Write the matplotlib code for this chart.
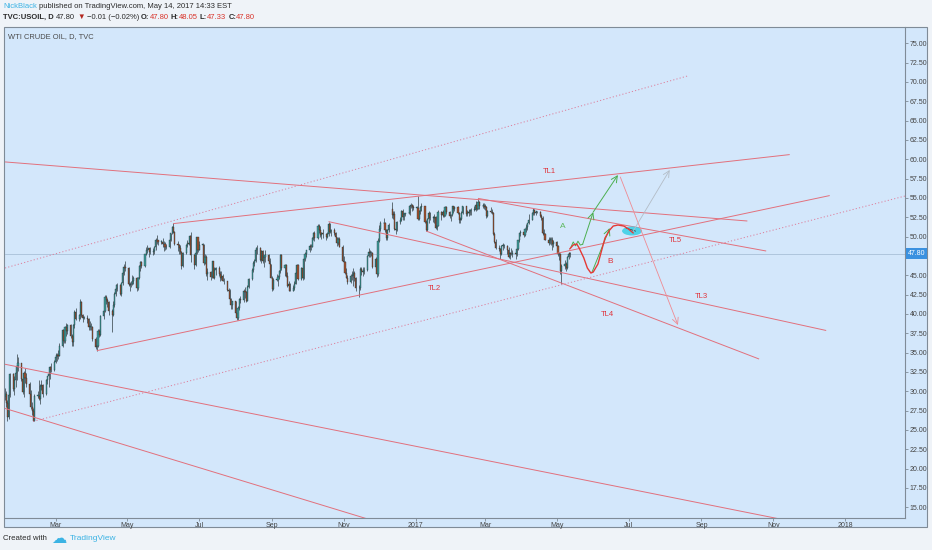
import matplotlib
matplotlib.use("Agg")
import matplotlib.pyplot as plt
import matplotlib.dates as mdates
import matplotlib.transforms as mtransforms
from matplotlib.patches import Rectangle, Ellipse
import pandas as pd
import numpy as np

FONT = ['Liberation Sans', 'DejaVu Sans']
plt.rcParams['font.family'] = FONT

# ---------------- data ----------------
last_date = '2017-05-12'
closes = [
    29.6, 28.5, 26.6, 29.5, 32.2, 30.3, 31.4, 32.3, 33.2, 33.6,
    31.6, 29.9, 32.3, 31.7, 30.9, 29.7, 27.9, 27.5, 26.2, 29.4, 29.4, 29.0, 30.7, 30.8, 29.6, 31.5, 31.9, 32.2, 33.1, 32.8, 33.8,
    34.4, 34.7, 34.6, 35.9, 37.9, 36.5, 38.3, 37.8, 38.5, 37.2, 36.3, 38.5, 40.2, 39.4, 39.9, 41.5, 39.8, 39.5, 39.5, 39.4, 38.3, 38.3, 38.3,
    36.8, 35.7, 35.9, 37.8, 37.3, 39.7, 40.4, 42.2, 41.8, 41.5, 40.4, 39.8, 41.1, 42.6, 43.2, 43.7, 42.6, 44.0, 45.3, 46.0, 45.9,
    43.8, 43.7, 43.8, 44.3, 44.7, 43.4, 44.7, 46.2, 46.7, 46.2, 47.7, 48.3, 48.2, 48.5, 48.0, 48.1, 48.6, 49.6, 49.5, 49.3, 49.3, 49.1,
    49.0, 48.6, 48.6, 49.6, 50.4, 51.2, 50.6, 49.1, 48.9, 48.5, 48.0, 46.2, 47.9, 48.9, 49.2, 49.1, 50.1, 47.6, 46.3, 47.9, 49.9, 48.3,
    48.9, 48.9, 46.6, 47.4, 45.1, 45.4, 44.8, 46.8, 44.7, 45.7, 45.9, 45.2, 44.6, 44.9, 44.3, 44.2, 43.1, 42.9, 41.9, 41.1, 41.6,
    40.1, 39.5, 40.8, 41.9, 41.8, 43.0, 42.8, 41.7, 43.5, 44.5, 45.7, 46.6, 46.8, 48.2, 48.5, 47.0, 48.1, 46.8, 47.3, 47.6, 46.9, 46.4, 44.7,
    43.2, 44.4, 44.4, 44.8, 45.5, 47.6, 45.9, 46.3, 44.9, 43.6, 43.9, 43.0, 43.3, 43.9, 45.3, 46.3, 44.5, 45.9, 44.7, 47.1, 47.8, 48.2,
    48.8, 48.7, 49.8, 50.4, 49.8, 51.4, 50.8, 50.2, 50.4, 50.3, 49.9, 50.3, 51.6, 50.6, 50.8, 50.5, 49.9, 49.2, 49.7, 48.7, 46.9,
    46.7, 45.3, 44.7, 44.1, 44.9, 45.0, 45.3, 44.7, 43.4, 43.3, 45.8, 45.6, 45.4, 45.7, 47.5, 48.0, 47.9, 47.9, 46.1, 47.1, 45.2, 49.4,
    51.0, 51.7, 51.8, 50.9, 49.8, 50.8, 51.5, 52.8, 52.9, 51.0, 50.9, 51.9, 52.1, 53.3, 52.5, 52.9, 53.0, 53.0, 53.9, 54.1, 53.8, 53.7,
    53.7, 52.3, 53.3, 53.8, 54.0, 51.9, 50.8, 52.3, 53.0, 52.4, 52.4, 52.5, 51.1, 51.4, 53.2, 52.8, 53.2, 52.7, 53.8, 53.2, 52.6, 52.8,
    53.9, 53.5, 53.8, 53.0, 52.2, 52.3, 53.0, 53.9, 52.9, 53.2, 53.1, 53.3, 53.4, 53.4, 54.1, 53.6, 54.5, 53.9, 54.0, 54.0,
    53.8, 52.6, 53.3, 53.2, 53.1, 50.3, 49.3, 48.5, 48.4, 47.7, 48.8, 48.8, 48.8, 48.2, 47.3, 47.9, 47.7, 47.9, 47.7, 48.4, 49.5, 50.4, 50.6,
    50.2, 51.0, 51.2, 51.7, 52.2, 53.1, 53.4, 53.1, 53.2, 53.2, 52.7, 52.4, 50.4, 50.3, 49.6, 49.2, 49.6, 49.6, 49.0, 49.3,
    48.8, 47.7, 47.8, 45.5, 46.2, 46.4, 45.9, 47.3, 47.8, 47.80,
]
opens = [
    29.4, 29.6, 28.5, 26.6, 29.5, 32.2, 30.3, 31.4, 32.3, 33.2,
    33.6, 31.6, 29.9, 32.3, 31.7, 30.9, 29.7, 27.9, 27.5, 26.2, 29.4, 29.4, 29.0, 30.7, 30.8, 29.6, 31.5, 31.9, 32.2, 33.1, 32.8,
    33.8, 34.4, 34.7, 34.6, 35.9, 37.9, 36.5, 38.3, 37.8, 38.5, 37.2, 36.3, 38.5, 40.2, 39.4, 39.9, 41.5, 39.8, 39.5, 39.5, 39.4, 38.3, 38.3,
    38.3, 36.8, 35.7, 35.9, 37.8, 37.3, 39.7, 40.4, 42.2, 41.8, 41.5, 40.4, 39.8, 41.1, 42.6, 43.2, 43.7, 42.6, 44.0, 45.3, 46.0,
    45.9, 43.8, 43.7, 43.8, 44.3, 44.7, 43.4, 44.7, 46.2, 46.7, 46.2, 47.7, 48.3, 48.2, 48.5, 48.0, 48.1, 48.6, 49.6, 49.5, 49.3, 49.3,
    49.1, 49.0, 48.6, 48.6, 49.6, 50.4, 51.2, 50.6, 49.1, 48.9, 48.5, 48.0, 46.2, 47.9, 48.9, 49.2, 49.1, 50.1, 47.6, 46.3, 47.9, 49.9,
    48.3, 48.9, 48.9, 46.6, 47.4, 45.1, 45.4, 44.8, 46.8, 44.7, 45.7, 45.9, 45.2, 44.6, 44.9, 44.3, 44.2, 43.1, 42.9, 41.9, 41.1,
    41.6, 40.1, 39.5, 40.8, 41.9, 41.8, 43.0, 42.8, 41.7, 43.5, 44.5, 45.7, 46.6, 46.8, 48.2, 48.5, 47.0, 48.1, 46.8, 47.3, 47.6, 46.9, 46.4,
    44.7, 43.2, 44.4, 44.4, 44.8, 45.5, 47.6, 45.9, 46.3, 44.9, 43.6, 43.9, 43.0, 43.3, 43.9, 45.3, 46.3, 44.5, 45.9, 44.7, 47.1, 47.8,
    48.2, 48.8, 48.7, 49.8, 50.4, 49.8, 51.4, 50.8, 50.2, 50.4, 50.3, 50.0, 50.3, 51.6, 50.6, 50.8, 50.5, 49.9, 49.2, 49.7, 48.7,
    46.9, 46.7, 45.3, 44.7, 44.1, 44.9, 45.0, 45.3, 44.7, 43.4, 43.3, 45.8, 45.6, 45.4, 45.7, 47.5, 48.0, 47.9, 47.9, 46.1, 47.1, 45.2,
    49.4, 51.0, 51.7, 51.8, 50.9, 49.8, 50.8, 53.6, 52.8, 52.9, 51.0, 50.9, 51.9, 52.1, 53.3, 52.5, 52.9, 53.0, 53.0, 53.9, 54.1, 53.8,
    53.7, 53.7, 52.3, 53.3, 53.8, 54.0, 51.9, 50.8, 52.3, 53.0, 52.4, 52.4, 52.5, 51.1, 51.4, 53.2, 52.8, 53.2, 52.7, 53.8, 53.2, 52.6,
    52.8, 53.9, 53.5, 53.8, 53.0, 52.2, 52.3, 53.0, 53.9, 52.9, 53.2, 53.1, 53.3, 53.4, 53.4, 54.1, 53.6, 54.5, 53.9, 54.0,
    54.0, 53.8, 52.6, 53.3, 53.2, 53.1, 50.3, 49.3, 48.5, 48.4, 47.7, 48.8, 48.8, 48.8, 48.2, 47.3, 47.9, 47.7, 47.9, 47.7, 48.4, 49.5, 50.4,
    50.6, 50.2, 51.0, 51.2, 51.7, 52.2, 53.1, 53.4, 53.1, 53.2, 53.2, 52.7, 52.4, 50.4, 50.3, 49.6, 49.2, 49.6, 49.6, 49.0,
    49.3, 48.8, 47.7, 47.8, 45.5, 46.2, 46.4, 45.9, 47.3, 47.83,
]
highs = [
    30.4, 30.0, 28.8, 30.0, 32.4, 32.3, 31.9, 32.6, 34.8, 34.4,
    33.7, 31.8, 32.6, 33.0, 32.3, 31.2, 30.1, 28.6, 27.8, 29.6, 30.0, 31.5, 30.9, 31.5, 30.9, 31.6, 32.0, 32.3, 33.2, 33.6, 34.0,
    35.0, 35.0, 35.3, 36.2, 38.0, 38.1, 38.4, 38.8, 38.7, 38.7, 37.4, 38.7, 40.5, 40.8, 40.0, 41.9, 41.6, 40.0, 39.7, 39.8, 39.5, 39.1, 38.8,
    38.4, 37.0, 36.3, 38.0, 38.1, 39.9, 40.6, 42.4, 42.4, 42.0, 41.7, 40.6, 41.6, 42.8, 43.8, 44.0, 43.8, 44.1, 45.5, 46.4, 46.8,
    46.0, 44.1, 44.3, 45.0, 44.9, 44.8, 44.8, 46.3, 46.9, 46.9, 47.8, 48.7, 48.9, 48.5, 48.7, 48.5, 48.8, 49.8, 50.2, 49.6, 49.6, 49.8,
    49.4, 49.3, 49.1, 49.8, 50.5, 51.3, 51.7, 50.7, 49.4, 49.0, 48.9, 48.1, 48.0, 49.0, 49.5, 49.7, 50.2, 50.6, 47.7, 48.1, 50.0, 50.0,
    49.4, 49.2, 49.0, 47.8, 47.6, 45.9, 45.6, 46.9, 46.9, 46.0, 46.1, 46.2, 45.5, 45.5, 45.2, 44.6, 44.3, 43.4, 43.2, 42.0, 41.7,
    41.7, 40.4, 41.0, 42.1, 42.3, 43.2, 43.5, 43.0, 43.7, 44.7, 45.9, 46.8, 47.1, 48.7, 48.9, 48.6, 48.3, 48.2, 47.6, 48.2, 47.7, 47.2, 46.5,
    44.9, 44.6, 45.2, 45.0, 45.7, 47.7, 47.7, 46.5, 46.4, 45.4, 44.2, 44.0, 43.7, 44.2, 45.4, 46.5, 46.4, 46.1, 46.0, 47.3, 48.0, 48.3,
    49.0, 49.1, 49.9, 50.6, 50.7, 51.6, 51.6, 51.3, 50.6, 51.0, 50.4, 50.6, 51.9, 51.7, 51.0, 51.1, 50.6, 50.0, 50.0, 50.0, 48.9,
    47.5, 46.8, 45.9, 45.0, 45.2, 45.6, 45.9, 45.6, 44.8, 43.7, 46.0, 46.0, 46.0, 46.0, 47.6, 48.5, 48.3, 48.1, 48.0, 47.3, 47.2, 49.8,
    51.5, 52.0, 52.4, 51.9, 51.0, 51.0, 51.7, 54.5, 53.3, 53.3, 51.3, 52.0, 52.5, 53.4, 53.5, 53.0, 53.1, 53.2, 54.1, 54.4, 54.2, 54.1,
    53.9, 55.2, 53.4, 54.0, 54.3, 54.0, 52.2, 52.4, 53.3, 53.2, 52.6, 52.9, 52.6, 51.6, 53.4, 53.3, 53.4, 53.3, 53.9, 53.9, 53.3, 52.9,
    54.0, 54.0, 54.0, 54.0, 53.2, 52.5, 53.3, 54.0, 53.9, 53.4, 53.6, 53.6, 53.7, 54.0, 54.6, 54.3, 55.0, 54.6, 54.3, 54.3,
    54.2, 53.9, 53.4, 53.8, 53.5, 53.2, 50.6, 49.7, 48.9, 48.5, 48.9, 49.2, 49.0, 48.9, 48.6, 48.0, 48.5, 48.2, 48.0, 48.5, 49.6, 50.5, 50.8,
    50.9, 51.1, 51.6, 51.8, 52.9, 53.2, 53.7, 53.6, 53.3, 53.3, 53.3, 52.9, 52.7, 51.0, 50.4, 49.9, 49.9, 50.0, 49.9, 49.5,
    49.4, 48.9, 48.0, 47.9, 46.5, 47.0, 46.7, 47.5, 48.0, 48.05,
]
lows = [
    28.9, 27.9, 26.2, 26.4, 29.3, 30.0, 29.5, 30.5, 31.5, 32.6,
    31.3, 29.6, 29.3, 31.1, 30.5, 29.0, 27.7, 26.9, 26.1, 26.2, 29.1, 28.8, 28.4, 30.1, 29.2, 29.5, 30.9, 30.6, 31.6, 32.5, 32.6,
    33.6, 33.9, 34.1, 34.5, 35.7, 36.2, 36.2, 37.2, 37.4, 36.9, 35.8, 35.9, 38.2, 39.2, 39.1, 39.3, 39.6, 39.0, 39.3, 38.8, 37.9, 37.9, 37.9,
    36.5, 35.5, 35.2, 35.7, 37.0, 37.2, 39.3, 40.2, 41.3, 40.9, 39.9, 37.6, 39.7, 40.9, 42.3, 42.9, 42.4, 42.3, 43.7, 45.0, 45.5,
    43.6, 43.0, 43.5, 43.7, 43.8, 42.9, 43.1, 44.5, 45.6, 45.9, 46.0, 47.6, 47.9, 47.4, 47.8, 47.6, 47.8, 48.3, 49.1, 48.9, 49.1, 48.7,
    48.1, 48.2, 48.4, 48.5, 49.4, 50.3, 50.4, 48.9, 48.1, 47.8, 47.7, 45.8, 46.1, 47.7, 48.6, 48.9, 48.9, 46.7, 45.8, 46.2, 47.8, 48.0,
    48.2, 48.4, 46.3, 46.4, 44.9, 44.4, 44.4, 44.6, 44.6, 44.5, 45.0, 44.9, 44.3, 44.4, 44.2, 43.9, 42.9, 42.5, 41.7, 40.6, 40.6,
    39.9, 39.2, 39.2, 40.5, 41.4, 41.5, 42.1, 41.5, 41.6, 43.3, 44.4, 45.4, 46.2, 46.7, 47.7, 46.8, 46.6, 46.6, 46.1, 46.7, 46.7, 46.1, 44.6,
    43.0, 43.1, 44.3, 43.6, 44.5, 45.3, 45.7, 44.9, 44.8, 43.5, 43.0, 42.9, 42.9, 43.1, 43.8, 45.1, 44.4, 44.4, 44.4, 44.5, 46.9, 47.4,
    48.0, 48.3, 48.6, 49.6, 49.4, 49.7, 50.4, 49.9, 49.7, 49.8, 49.6, 49.8, 50.1, 50.4, 50.1, 50.2, 49.6, 48.8, 48.9, 48.6, 46.8,
    46.3, 45.2, 44.6, 43.9, 44.0, 44.4, 43.6, 44.3, 43.0, 42.2, 43.1, 45.0, 44.9, 45.1, 45.6, 47.3, 47.3, 47.5, 45.9, 45.6, 44.8, 44.9,
    49.3, 50.7, 51.4, 50.6, 49.6, 49.6, 50.6, 52.4, 52.3, 50.8, 50.3, 50.7, 51.6, 52.0, 52.2, 52.2, 52.6, 52.9, 52.8, 53.7, 53.3, 53.4,
    53.6, 52.1, 52.2, 52.9, 53.3, 51.8, 50.7, 50.7, 51.8, 52.2, 51.9, 51.7, 51.0, 50.9, 51.3, 52.1, 52.5, 52.5, 52.6, 52.9, 52.4, 52.0,
    52.7, 53.0, 53.3, 52.9, 51.8, 51.8, 52.2, 52.9, 52.7, 52.6, 52.7, 52.8, 52.8, 53.3, 53.3, 53.4, 53.5, 53.6, 53.7, 53.5,
    53.4, 52.4, 52.5, 53.0, 52.9, 50.2, 49.2, 48.4, 48.1, 47.1, 47.6, 48.3, 48.5, 47.8, 47.2, 47.1, 47.6, 47.4, 47.1, 47.5, 48.3, 49.3, 50.1,
    49.9, 50.1, 50.6, 50.8, 51.6, 52.1, 52.8, 52.8, 52.8, 53.1, 52.5, 52.2, 50.2, 50.1, 49.5, 48.9, 49.0, 48.9, 48.2, 48.7,
    48.6, 47.5, 47.0, 45.2, 43.8, 45.8, 45.6, 45.8, 47.1, 47.33,
]

last_price = 47.80
x_tick_dates = ['2016-03-01', '2016-05-01', '2016-07-01', '2016-09-01', '2016-11-01', '2017-01-01',
                '2017-03-01', '2017-05-01', '2017-07-01', '2017-09-01', '2017-11-01', '2018-01-01']
x_tick_labels = ['Mar', 'May', 'Jul', 'Sep', 'Nov', '2017', 'Mar', 'May', 'Jul', 'Sep', 'Nov', '2018']
y_ticks = [15.0, 17.5, 20.0, 22.5, 25.0, 27.5, 30.0, 32.5, 35.0, 37.5, 40.0, 42.5, 45.0,
           47.5, 50.0, 52.5, 55.0, 57.5, 60.0, 62.5, 65.0, 67.5, 70.0, 72.5, 75.0]
hidden_tick = 47.5  # covered by the last-price badge in the chart
x_range = ['2016-01-18', '2018-02-21']
y_range = [13.6, 77.1]

# solid trend lines: (dates, prices)
solid_lines = {
    'TL1': (['2016-06-09', '2017-11-15'], [51.67, 60.6]),
    'TL2': (['2016-04-05', '2017-12-19'], [35.24, 55.3]),
    'TL3': (['2016-10-19', '2017-12-16'], [51.93, 37.85]),
    'TL4': (['2017-01-10', '2017-10-20'], [50.71, 34.16]),
    'TL5': (['2017-02-23', '2017-10-26'], [54.94, 48.13]),
    'upper_desc': (['2016-01-18', '2017-10-10'], [59.65, 52.01]),
    'low_a': (['2016-01-01', '2017-12-01'], [34.0, 12.73]),
    'low_b': (['2016-01-01', '2016-12-15'], [28.56, 12.37]),
}
dotted_lines = {
    'upper': (['2016-01-18', '2017-08-20'], [45.93, 70.76]),
    'lower': (['2016-02-11', '2018-02-21'], [26.1, 55.24]),
}
# labels
label_text = ['TL1', 'TL2', 'TL3', 'TL4', 'TL5']
label_dates = ['2017-04-25', '2017-01-17', '2017-09-01', '2017-06-13', '2017-08-10']
label_prices = [58.35, 43.34, 42.31, 39.98, 49.55]
scen_text = ['A', 'B']
scen_dates = ['2017-05-06', '2017-06-15']
scen_prices = [51.36, 46.71]

# scenario A (green)
green_wiggle_dates = ['2017-05-13', '2017-05-15', '2017-05-17', '2017-05-19', '2017-05-21', '2017-05-23']
green_wiggle_prices = [48.6, 49.3, 48.8, 49.4, 48.9, 49.0]
green_arrow1 = (['2017-05-23', '2017-06-01'], [49.0, 53.17])
green_arrow2 = (['2017-06-01', '2017-06-22'], [53.17, 57.96])
green_arrow3 = (['2017-05-31', '2017-06-15'], [45.41, 51.1])
# scenario B (red curve)
red_dates = ['2017-05-12', '2017-05-15', '2017-05-18', '2017-05-20', '2017-05-24', '2017-05-27',
             '2017-05-30', '2017-06-01', '2017-06-05', '2017-06-08', '2017-06-11', '2017-06-15',
             '2017-06-18', '2017-06-22', '2017-06-27', '2017-07-01', '2017-07-05']
red_prices = [48.39, 48.91, 49.04, 48.52, 47.23, 45.93, 45.28, 45.41, 46.45, 48.13, 49.81, 50.85,
              51.36, 51.49, 51.36, 50.97, 50.46]
pink_arrow = (['2017-06-24', '2017-08-12'], [57.7, 38.56])
grey_arrow = (['2017-07-05', '2017-08-05'], [50.72, 58.61])
target_center = ('2017-07-04', 50.72)
target_size = (17, 1.16)  # days, price
dark_tick = (['2017-06-29', '2017-07-07'], [51.1, 50.7])

# ---------------- styling ----------------
W, H, DPI = 932, 550, 100
BG = '#eff3f8'
PANE = '#d3e7fb'
BORDER = '#7f8b97'
LINEC = '#e2707c'
TEXTRED = '#e0333a'
GREEN = '#4caf50'
UPC = '#3e9e9c'
DNC = '#a5532f'
EDGE = '#1d2a2c'


def dn(s):
    return mdates.date2num(pd.to_datetime(s))


fig = plt.figure(figsize=(W / DPI, H / DPI), dpi=DPI, facecolor=BG)
fig.add_artist(Rectangle((3.5 / W, 1 - 527 / H), (927 - 3.5) / W, (527 - 27) / H,
                         transform=fig.transFigure, facecolor=PANE, edgecolor=BORDER,
                         lw=0.8, zorder=0))
ax = fig.add_axes([5 / W, 1 - 518 / H, 900 / W, 491 / H])
ax.set_facecolor(PANE)
ax.patch.set_alpha(0)
for s in ['top', 'left']:
    ax.spines[s].set_visible(False)
for s in ['right', 'bottom']:
    ax.spines[s].set_color(BORDER)
    ax.spines[s].set_linewidth(0.8)

ax.set_xlim(dn(x_range[0]), dn(x_range[1]))
ax.set_ylim(*y_range)

# candles
n = min(len(opens), len(highs), len(lows), len(closes))
o = np.array(opens[-n:], float)
h = np.array(highs[-n:], float)
l = np.array(lows[-n:], float)
c = np.array(closes[-n:], float)
dates = pd.bdate_range(end=last_date, periods=n)
xd = mdates.date2num(dates.to_pydatetime())
top = np.maximum(h, np.maximum(o, c))
bot = np.minimum(l, np.minimum(o, c))
ax.vlines(xd, bot, top, color=EDGE, lw=0.45, zorder=3)
up = c >= o
bb = np.minimum(o, c)
bh = np.maximum(np.abs(c - o), 0.1)
ax.bar(xd[up], bh[up], bottom=bb[up], width=0.95, color=UPC, edgecolor=EDGE, lw=0.25, zorder=4)
ax.bar(xd[~up], bh[~up], bottom=bb[~up], width=0.95, color=DNC, edgecolor=EDGE, lw=0.25, zorder=4)

# last price line
ax.axhline(last_price, color='#a8c0d8', lw=0.6, zorder=2)

# trend lines
for k, (dd, pp) in solid_lines.items():
    ax.plot([dn(d) for d in dd], pp, color=LINEC, lw=0.7, zorder=5, solid_capstyle='butt')
for k, (dd, pp) in dotted_lines.items():
    ax.plot([dn(d) for d in dd], pp, color='#dd7f9c', lw=0.7, ls=(0, (1.2, 2.2)), zorder=5)

for t, d, p in zip(label_text, label_dates, label_prices):
    ax.text(dn(d), p, t, color=TEXTRED, fontsize=5.5, ha='center', va='center', zorder=8)
ax.text(dn(scen_dates[0]), scen_prices[0], scen_text[0], color='#5cb85c', fontsize=6,
        ha='center', va='center', zorder=8)
ax.text(dn(scen_dates[1]), scen_prices[1], scen_text[1], color=TEXTRED, fontsize=6,
        ha='center', va='center', zorder=8)


def arrow(seg, color, lw):
    dd, pp = seg
    ax.annotate('', xy=(dn(dd[1]), pp[1]), xytext=(dn(dd[0]), pp[0]),
                arrowprops=dict(arrowstyle='->,head_length=0.45,head_width=0.22', color=color,
                                lw=lw, shrinkA=0, shrinkB=0), zorder=7)


# target ellipse
ax.add_patch(Ellipse((dn(target_center[0]), target_center[1]), target_size[0], target_size[1],
                     facecolor='#3fd0e6', edgecolor='none', alpha=0.9, zorder=6))
ax.plot([dn(d) for d in dark_tick[0]], dark_tick[1], color='#333', lw=0.5, zorder=7)

# scenario paths
ax.plot([dn(d) for d in green_wiggle_dates], green_wiggle_prices, color=GREEN, lw=0.7, zorder=7)
arrow(green_arrow1, GREEN, 0.7)
arrow(green_arrow2, GREEN, 0.7)
arrow(green_arrow3, GREEN, 0.7)
ax.plot([dn(d) for d in red_dates], red_prices, color='#e53935', lw=1.0, zorder=7,
        solid_joinstyle='round', solid_capstyle='round')
arrow(pink_arrow, '#ef8a92', 0.6)
arrow(grey_arrow, '#b3bcc6', 0.6)

# axes ticks
ax.yaxis.tick_right()
ax.set_yticks(y_ticks)
ax.set_yticklabels(['' if v == hidden_tick else f'{v:.2f}' for v in y_ticks])
ax.set_xticks([dn(d) for d in x_tick_dates])
ax.set_xticklabels(x_tick_labels)
ax.tick_params(axis='y', length=2, width=0.6, color=BORDER, labelsize=5, labelcolor='#444', pad=1.5)
ax.tick_params(axis='x', length=2, width=0.6, color=BORDER, labelsize=5, labelcolor='#444', pad=1.2)

# last price badge
trans = mtransforms.blended_transform_factory(ax.transAxes, ax.transData)
ax.text(1 + 2.5 / 900, last_price, f'{last_price:.2f}', transform=trans, ha='left', va='center',
        fontsize=5, color='white', zorder=10, clip_on=False,
        bbox=dict(boxstyle='square,pad=0.25', fc='#3a91e0', ec='none'))

# header / footer texts
renderer = fig.canvas.get_renderer()


def chain(x0, yc, parts, size):
    x = x0
    sp = 0.278 * size * DPI / 72
    for s, color, weight, gap, fs in parts:
        x += gap * sp
        t = fig.text(x / W, 1 - yc / H, s, color=color, fontsize=fs or size, fontweight=weight,
                     ha='left', va='center', family=FONT)
        x = t.get_window_extent(renderer=renderer).x1
    return x


RED = '#d9342b'
DARK = '#2a2a2a'
chain(3, 7, [('NickBlack', '#3bb3e4', 'normal', 0, None),
             ('published on TradingView.com, May 14, 2017 14:33 EST', DARK, 'normal', 1, None)], 5.5)
chain(3, 17.5, [('TVC:USOIL, D', DARK, 'bold', 0, None),
                ('47.80', DARK, 'normal', 1, None),
                ('▼', '#b3261e', 'normal', 1, None),
                ('−0.01 (−0.02%)', DARK, 'normal', 1, None),
                ('O:', DARK, 'bold', 1, None), ('47.80', RED, 'normal', 0, None),
                ('H:', DARK, 'bold', 1, None), ('48.05', RED, 'normal', 0, None),
                ('L:', DARK, 'bold', 1, None), ('47.33', RED, 'normal', 0, None),
                ('C:', DARK, 'bold', 1, None), ('47.80', RED, 'normal', 0, None)], 5.5)
fig.text(8 / W, 1 - 37 / H, 'WTI CRUDE OIL, D, TVC', color='#4a4a4a', fontsize=5.4,
         ha='left', va='center')
chain(3, 539, [('Created with', DARK, 'normal', 0, None),
               ('☁', '#3bb3e4', 'normal', 2, 11),
               ('TradingView', '#3bb3e4', 'normal', 1.5, 6)], 5.6)

fig.savefig('out.png', dpi=DPI, facecolor=BG)
